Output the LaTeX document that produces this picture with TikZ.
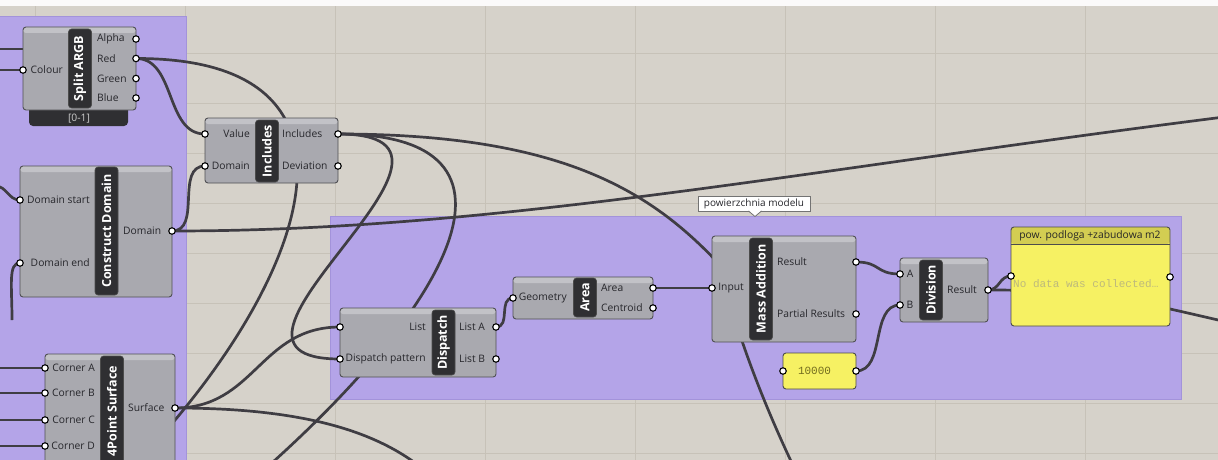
\documentclass[tikz,border=0pt]{standalone}
\usepackage{fontspec}
\setmainfont{Open Sans}
\newfontfamily\monofnt{Liberation Mono}
\usepackage{tikz}

\definecolor{canvasbg}{HTML}{D6D2CA}
\definecolor{gridcol}{HTML}{C7C2B8}
\definecolor{grpfill}{HTML}{B4A4E8}
\definecolor{grpedge}{HTML}{A393DA}
\definecolor{compfill}{HTML}{A9A9AF}
\definecolor{compedge}{HTML}{505054}
\definecolor{stripfill}{HTML}{2F2F32}
\definecolor{lbltext}{HTML}{26262B}
\definecolor{wirecol}{HTML}{3F3D43}
\definecolor{panelyel}{HTML}{F6F163}
\definecolor{panelhead}{HTML}{D3CD52}
\definecolor{nodatacol}{HTML}{BDB97C}
\definecolor{numcol}{HTML}{726C1E}

\pgfdeclarelayer{back}
\pgfdeclarelayer{wires}
\pgfsetlayers{back,wires,main}

\tikzset{
  comp/.style={draw=compedge, line width=0.9, fill=compfill, rounded corners=3, inner sep=0,
    path picture={\fill[white, opacity=0.3] (path picture bounding box.north west) rectangle ([yshift=-6pt]path picture bounding box.north east);}},
  strip/.style={fill=stripfill, draw=black!70, line width=0.6, rounded corners=3, rotate=90,
    minimum height=23, inner sep=0, text=white, font=\fontsize{12.5}{13}\selectfont\bfseries},
  lbl/.style={inner sep=0, text=lbltext, font=\fontsize{10.3}{12}\selectfont},
  port/.style={circle, draw=black, line width=1.1, fill=white, minimum size=6.5, inner sep=0},
  wire/.style={draw=wirecol, line width=2.7},
  grp/.style={fill=grpfill, draw=grpedge, line width=0.8},
  panel/.style={draw=black!70, line width=0.9, fill=panelyel, rounded corners=3, inner sep=0},
  bar/.style={fill=stripfill, rounded corners=4, inner sep=0},
  tip/.style={draw=black!55, fill=white, inner sep=0, text=lbltext, font=\fontsize{10}{12}\selectfont}
}

\begin{document}
\begin{tikzpicture}[x=1pt, y=-1pt]
    \useasboundingbox (0,0) rectangle (1218,460);

    % canvas, grid and groups
    \begin{pgfonlayer}{back}
        \fill[canvasbg] (0,0) rectangle (1218,460);
        \draw[gridcol, line width=0.8, xstep=150pt, ystep=50pt, shift={(35,3)}] (-35,-3) grid (1183,457);
        \fill[white!90!canvasbg] (0,0) rectangle (1218,6);
        \draw[grp] (-5,16) rectangle (186,470);
        \draw[grp] (330,216) rectangle (1181,399);
    \end{pgfonlayer}

    % Split ARGB
    \node[bar, minimum width=99, minimum height=26] (argbBar) at (78.5,113) {};
    \node[lbl, text=white!80!black] (argbRng) at (79,118.5) {[0-1]};
    \node[comp, minimum width=113, minimum height=83] (argb) at (79.5,68.5) {};
    \node[strip, minimum width=79] (argbT) at (80,68.5) {Split ARGB};
    \node[lbl, anchor=east] (argbLc) at (63,70) {Colour};
    \node[lbl, anchor=west] (argbLa) at (97,39) {Alpha};
    \node[lbl, anchor=west] (argbLr) at (97,58.5) {Red};
    \node[lbl, anchor=west] (argbLg) at (97,78.5) {Green};
    \node[lbl, anchor=west] (argbLb) at (97,98) {Blue};
    \coordinate (argbX) at (23,49);
    \node[port] (argbIn) at (23,70) {};
    \node[port] (argbA) at (136,39) {};
    \node[port] (argbR) at (136,58.5) {};
    \node[port] (argbG) at (136,78.5) {};
    \node[port] (argbB) at (136,98) {};

    % Includes
    \node[comp, minimum width=133, minimum height=65] (inc) at (271.5,150.5) {};
    \node[strip, minimum width=62] (incT) at (267,151) {Includes};
    \node[lbl, anchor=east] (incLv) at (250,134) {Value};
    \node[lbl, anchor=east] (incLd) at (250,166) {Domain};
    \node[lbl, anchor=west] (incLi) at (282,134) {Includes};
    \node[lbl, anchor=west] (incLe) at (282,166) {Deviation};
    \node[port] (incV) at (205,134) {};
    \node[port] (incD) at (205,166) {};
    \node[port] (incI) at (338,134) {};
    \node[port] (incE) at (338,166) {};

    % Construct Domain
    \node[comp, minimum width=152, minimum height=131] (cd) at (96,231.5) {};
    \node[strip, minimum width=128] (cdT) at (106.5,231) {Construct Domain};
    \node[lbl, anchor=east] (cdLs) at (90,200) {Domain start};
    \node[lbl, anchor=east] (cdLe) at (90,263) {Domain end};
    \node[lbl, anchor=west] (cdLo) at (123,231) {Domain};
    \node[port] (cdS) at (20,200) {};
    \node[port] (cdE) at (20,263) {};
    \node[port] (cdO) at (172,231) {};

    % 4Point Surface
    \node[comp, minimum width=130, minimum height=118] (fps) at (110,413) {};
    \node[strip, minimum width=110] (fpsT) at (112,411) {4Point Surface};
    \node[lbl, anchor=east] (fpsLa) at (95,368) {Corner A};
    \node[lbl, anchor=east] (fpsLb) at (95,393) {Corner B};
    \node[lbl, anchor=east] (fpsLc) at (95,420) {Corner C};
    \node[lbl, anchor=east] (fpsLd) at (95,446) {Corner D};
    \node[lbl, anchor=west] (fpsLo) at (128,408) {Surface};
    \node[port] (fpsA) at (45,368) {};
    \node[port] (fpsB) at (45,393) {};
    \node[port] (fpsC) at (45,420) {};
    \node[port] (fpsD) at (45,446) {};
    \node[port] (fpsO) at (175,408) {};

    % Dispatch
    \node[comp, minimum width=156, minimum height=69] (dsp) at (418,342.5) {};
    \node[strip, minimum width=65] (dspT) at (443.5,342.5) {Dispatch};
    \node[lbl, anchor=east] (dspLl) at (426,327) {List};
    \node[lbl, anchor=east] (dspLp) at (426,359) {Dispatch pattern};
    \node[lbl, anchor=west] (dspLa) at (459,327) {List A};
    \node[lbl, anchor=west] (dspLb) at (459,359) {List B};
    \node[port] (dspL) at (340,327) {};
    \node[port] (dspP) at (340,359) {};
    \node[port] (dspA) at (496,327) {};
    \node[port] (dspB) at (496,359) {};

    % Area
    \node[comp, minimum width=140, minimum height=42] (area) at (583,298) {};
    \node[strip, minimum width=39] (areaT) at (585,297.5) {Area};
    \node[lbl, anchor=east] (areaLg) at (567,298) {Geometry};
    \node[lbl, anchor=west] (areaLa) at (601,288) {Area};
    \node[lbl, anchor=west] (areaLc) at (601,308) {Centroid};
    \node[port] (areaG) at (513,298) {};
    \node[port] (areaA) at (653,288) {};
    \node[port] (areaC) at (653,308) {};

    % Mass Addition
    \node[comp, minimum width=144, minimum height=106] (ma) at (784,289) {};
    \node[strip, minimum width=102] (maT) at (761,289) {Mass Addition};
    \node[lbl, anchor=east] (maLi) at (744,288) {Input};
    \node[lbl, anchor=west] (maLr) at (777,262) {Result};
    \node[lbl, anchor=west] (maLp) at (777,314) {Partial Results};
    \node[port] (maI) at (712,288) {};
    \node[port] (maR) at (856,262) {};
    \node[port] (maP) at (856,314) {};

    % Division
    \node[comp, minimum width=88, minimum height=64] (div) at (944,290) {};
    \node[strip, minimum width=60] (divT) at (931,290) {Division};
    \node[lbl] (divLa) at (910,274) {A};
    \node[lbl] (divLb) at (910,305) {B};
    \node[lbl, anchor=west] (divLr) at (947,290) {Result};
    \node[port] (divA) at (900,274) {};
    \node[port] (divB) at (900,305) {};
    \node[port] (divR) at (988,290) {};

    % panels
    \node[panel, minimum width=159, minimum height=99,
      path picture={\fill[panelhead] (path picture bounding box.north west) rectangle ([yshift=-17pt]path picture bounding box.north east);
        \draw[black!70, line width=0.8] ([yshift=-17pt]path picture bounding box.north west) -- ([yshift=-17pt]path picture bounding box.north east);}]
      (pan) at (1090.5,276.5) {};
    \node[lbl, text=black!85] (panHd) at (1090,235.5) {pow. podloga +zabudowa m2};
    \node[inner sep=0, anchor=west, text=nodatacol, font=\monofnt\fontsize{11}{12}\selectfont] (panTx) at (1013,284) {No data was collected…};
    \node[port] (panI) at (1011,276) {};
    \node[port] (panO) at (1170,277) {};

    \node[panel, minimum width=73, minimum height=36] (num) at (819.5,371) {};
    \node[inner sep=0, text=numcol, font=\monofnt\fontsize{11}{12}\selectfont] (numTx) at (814.5,371) {10000};
    \node[port] (numI) at (783,371) {};
    \node[port] (numO) at (856,371) {};

    % tooltip
    \node[tip, minimum width=112, minimum height=15] (tipbox) at (754,203.5) {powierzchnia modelu};
    \fill[white] (748.5,210.5) -- (755,216.5) -- (761.5,210.5) -- cycle;
    \draw[black!55, line width=0.8] (748.5,211) -- (755,216.5) -- (761.5,211);

    % free ends
    \coordinate (offA) at (120,480);
    \coordinate (offB) at (205,520);
    \coordinate (offC) at (805,490);
    \coordinate (incBend) at (720,265);
    \coordinate (offD) at (1240,115);
    \coordinate (offE) at (430,475);
    \coordinate (offF) at (1240,325);
    \coordinate (offG) at (-5,49);
    \coordinate (offH) at (-5,70);
    \coordinate (offI) at (-5,186);
    \coordinate (offJ) at (12,320);
    \coordinate (offK) at (-5,368);
    \coordinate (offL) at (-5,393);
    \coordinate (offM) at (-5,420);
    \coordinate (offN) at (-5,446);

    % wires
    \begin{pgfonlayer}{wires}
        \draw[wire] (offG) -- (argbX);
        \draw[wire] (offH) -- (argbIn.center);
        \draw[wire] (argbR.center) .. controls +(40,0) and +(-40,0) .. (incV.center);
        \draw[wire] (argbR.center) .. controls (400,58) and (300,300) .. (offA);
        \draw[wire] (offI) .. controls +(12,0) and +(-12,0) .. (cdS.center);
        \draw[wire] (offJ) .. controls (12,285) and (8,263) .. (cdE.center);
        \draw[wire] (cdO.center) .. controls +(30,0) and +(-30,0) .. (incD.center);
        \draw[wire] (cdO.center) .. controls (500,231) and (800,170) .. (offD);
        \draw[wire] (incI.center) .. controls (520,134) and (170,359) .. (dspP.center);
        \draw[wire] (incI.center) .. controls (560,134) and (440,330) .. (offB);
        \draw[wire] (incI.center) .. controls (560,134) and (650,190) .. (incBend) .. controls (735,330) and (765,410) .. (offC);
        \draw[wire] (offK) -- (fpsA.center);
        \draw[wire] (offL) -- (fpsB.center);
        \draw[wire] (offM) -- (fpsC.center);
        \draw[wire] (offN) -- (fpsD.center);
        \draw[wire] (fpsO.center) .. controls +(80,0) and +(-80,0) .. (dspL.center);
        \draw[wire] (fpsO.center) .. controls (300,408) and (380,430) .. (offE);
        \draw[wire] (dspA.center) .. controls +(15,0) and +(-15,0) .. (areaG.center);
        \draw[wire] (areaA.center) .. controls +(25,0) and +(-25,0) .. (maI.center);
        \draw[wire] (maR.center) .. controls +(25,0) and +(-25,0) .. (divA.center);
        \draw[wire] (numO.center) .. controls +(30,0) and +(-30,0) .. (divB.center);
        \draw[wire] (divR.center) .. controls +(12,0) and +(-12,0) .. (panI.center);
        \draw[wire] (divR.center) .. controls (1100,290) and (1130,300) .. (offF);
    \end{pgfonlayer}
\end{tikzpicture}
\end{document}
